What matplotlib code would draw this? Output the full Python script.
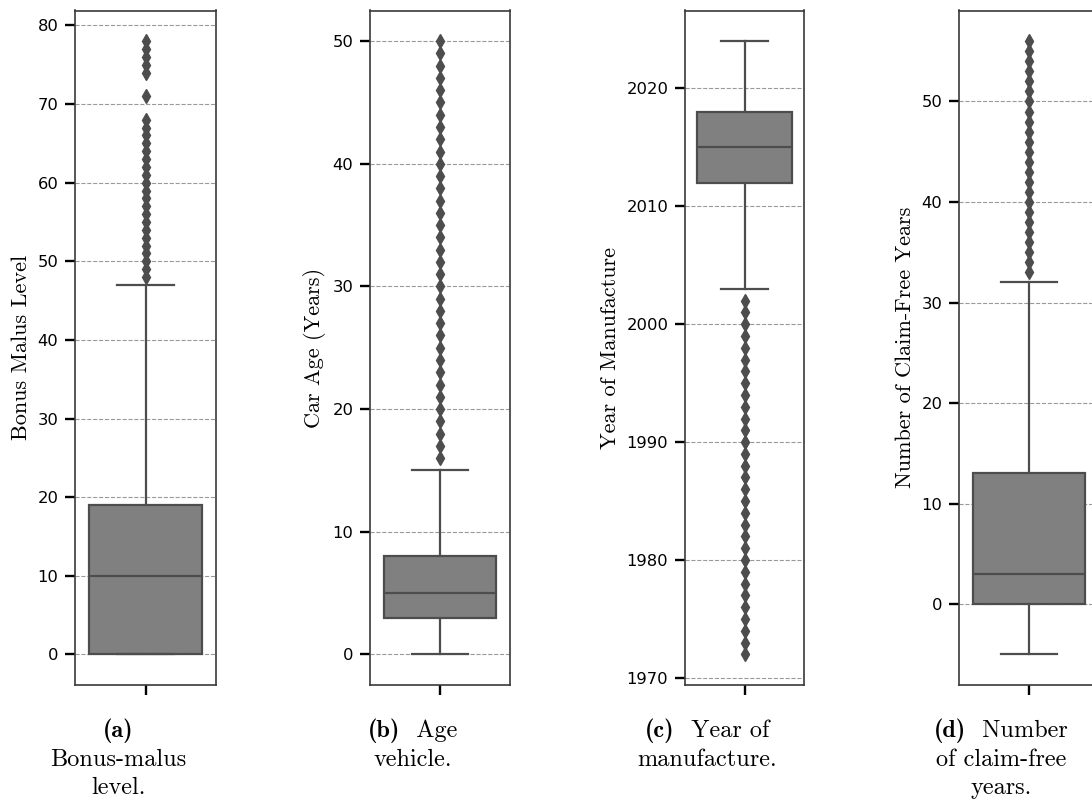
import matplotlib
matplotlib.use("Agg")
import matplotlib.pyplot as plt

# ---- data ----
labels_y = ["Bonus Malus Level", "Car Age (Years)", "Year of Manufacture",
            "Number of Claim-Free Years"]
caption_bold = ["(a)", "(b)", "(c)", "(d)"]
caption_first = ["", "Age", "Year of", "Number"]
caption_rest = [["Bonus-malus", "level."],
                ["vehicle."],
                ["manufacture."],
                ["of claim-free", "years."]]

q1 = [0, 3, 2012, 0]
median = [10, 5, 2015, 3]
q3 = [19, 8, 2018, 13]
whisker_low = [0, 0, 2003, -5]
whisker_high = [47, 15, 2024, 32]

fliers_bonus = list(range(48, 69)) + [71, 74, 75, 76, 77, 78]
fliers_age = list(range(16, 51))
fliers_year = list(range(1972, 2003))
fliers_claim = list(range(33, 57))
fliers = [fliers_bonus, fliers_age, fliers_year, fliers_claim]

# ---- layout (pixels) ----
W, H = 1092, 801
axes_px = [(75, 216), (370, 510), (685, 804), (959, 1099)]
top_px, bot_px = 10.5, 685
caption_cx = [118, 413, 707, 1001]
baseline1 = 737
line_step = 28.5
cap_size = 17.5

fig = plt.figure(figsize=(W / 100, H / 100), dpi=100)
renderer = fig.canvas.get_renderer()

box_face = "#808080"
line_col = "#4d4d4d"

for i in range(4):
    l, r = axes_px[i]
    ax = fig.add_axes([l / W, 1 - bot_px / H, (r - l) / W, (bot_px - top_px) / H])
    stats = [dict(med=median[i], q1=q1[i], q3=q3[i],
                  whislo=whisker_low[i], whishi=whisker_high[i],
                  fliers=fliers[i])]
    ax.bxp(stats, positions=[0], widths=0.8, patch_artist=True,
           boxprops=dict(facecolor=box_face, edgecolor=line_col, linewidth=1.6),
           medianprops=dict(color=line_col, linewidth=1.6),
           whiskerprops=dict(color=line_col, linewidth=1.6),
           capprops=dict(color=line_col, linewidth=1.6),
           flierprops=dict(marker='d', markersize=7, markerfacecolor=line_col,
                           markeredgecolor=line_col, linestyle='none'),
           capwidths=0.4)
    ax.set_xlim(-0.5, 0.5)
    ax.set_xticks([0])
    ax.set_xticklabels([""])
    ax.set_axisbelow(True)
    ax.yaxis.grid(True, linestyle='--', color='gray', alpha=0.8, linewidth=0.8)
    ax.tick_params(axis='both', which='major', length=7, width=1.7,
                   color='black', labelsize=11.8, pad=5)
    for s in ax.spines.values():
        s.set_color('#3a3a3a')
        s.set_linewidth(1.2)
    ax.set_ylabel(labels_y[i], family='cmr10', fontsize=16, labelpad=4.5)

    # caption: bold label + regular text on first line, then centred lines
    y1 = 1 - baseline1 / H
    tb = fig.text(0, y1, caption_bold[i], family='cmb10', fontsize=cap_size,
                  va='baseline', ha='left')
    first = ("  " + caption_first[i]) if caption_first[i] else ""
    tr = fig.text(0, y1, first, family='cmr10', fontsize=cap_size,
                  va='baseline', ha='left')
    wb = tb.get_window_extent(renderer).width
    wr = tr.get_window_extent(renderer).width if first else 0
    x0 = caption_cx[i] - (wb + wr) / 2
    tb.set_x(x0 / W)
    tr.set_x((x0 + wb) / W)
    for k, line in enumerate(caption_rest[i]):
        fig.text(caption_cx[i] / W, 1 - (baseline1 + line_step * (k + 1)) / H,
                 line, family='cmr10', fontsize=cap_size,
                 va='baseline', ha='center')

fig.savefig("out.png", dpi=100)
